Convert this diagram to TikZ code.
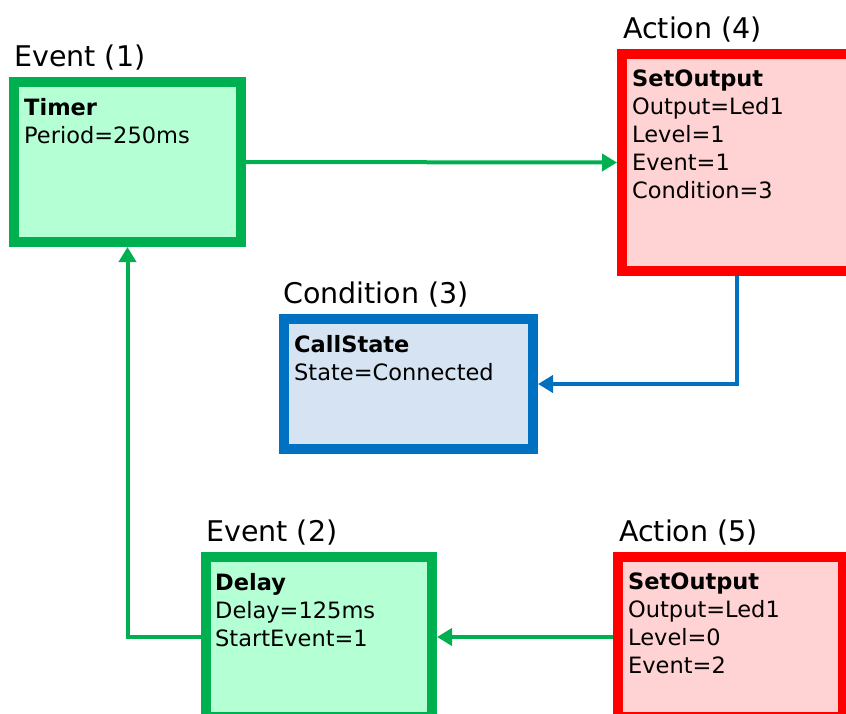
\documentclass[tikz,border=0pt]{standalone}
\usepackage{fontspec}
\setmainfont{DejaVu Sans}
\usetikzlibrary{positioning,arrows.meta}
\definecolor{evgreen}{HTML}{00B050}
\definecolor{evfill}{HTML}{B4FFD4}
\definecolor{actred}{HTML}{FF0000}
\definecolor{actfill}{HTML}{FFD3D3}
\definecolor{condblue}{HTML}{0070C0}
\definecolor{condfill}{HTML}{D6E3F3}
\tikzset{box/.style={rectangle,draw,line width=10pt,anchor=north west,inner sep=0pt},
         event box/.style={box,draw=evgreen,fill=evfill},
         action box/.style={box,draw=actred,fill=actfill},
         cond box/.style={box,draw=condblue,fill=condfill},
         title/.style={inner sep=0pt,font=\fontsize{28.5}{34}\selectfont},
         body/.style={inner sep=0pt,align=left,font=\fontsize{22.5}{28}\selectfont},
         link/.style={line width=4pt,-{Triangle[length=15pt,width=17pt]}},
            }

\begin{document}
\begin{tikzpicture}[x=1pt,y=1pt]
    \useasboundingbox (0,0) rectangle (846,-713);
    \node[event box, minimum width=227pt, minimum height=160pt] (ev1) at (9,-77) {};
    \node[action box, minimum width=229pt, minimum height=217pt] (act4) at (617,-49) {};
    \node[cond box, minimum width=249pt, minimum height=130pt] (cond3) at (279,-314) {};
    \node[event box, minimum width=226pt, minimum height=160pt] (ev2) at (201,-552) {};
    \node[action box, minimum width=225pt, minimum height=160pt] (act5) at (613,-552) {};

    % titles
    \node[title] (ev1title) [above right = 7pt and 5pt of ev1.north west] {Event (1)};
    \node[title] (act4title) [above right = 7pt and 6pt of act4.north west] {Action (4)};
    \node[title] (cond3title) [above right = 7pt and 4pt of cond3.north west] {Condition (3)};
    \node[title] (ev2title) [above right = 7pt and 5pt of ev2.north west] {Event (2)};
    \node[title] (act5title) [above right = 7pt and 6pt of act5.north west] {Action (5)};

    % contents
    \node[body] (ev1txt) [below right = 21pt and 15pt of ev1.north west]
        {\textbf{Timer}\\Period=250ms};
    \node[body] (act4txt) [below right = 21pt and 15pt of act4.north west]
        {\textbf{SetOutput}\\Output=Led1\\Level=1\\Event=1\\Condition=3};
    \node[body] (cond3txt) [below right = 21pt and 15pt of cond3.north west]
        {\textbf{CallState}\\State=Connected};
    \node[body] (ev2txt) [below right = 21pt and 14pt of ev2.north west]
        {\textbf{Delay}\\Delay=125ms\\StartEvent=1};
    \node[body] (act5txt) [below right = 21pt and 15pt of act5.north west]
        {\textbf{SetOutput}\\Output=Led1\\Level=0\\Event=2};

    \draw[link,evgreen] (ev1.east) -- (act4.west);
    \draw[link,evgreen] (act5.west) -- (ev2.east);
    \draw[link,evgreen] (ev2.west) -| (ev1.south);
    \draw[link,condblue] (act4.south) |- (cond3.east);
\end{tikzpicture}
\end{document}
